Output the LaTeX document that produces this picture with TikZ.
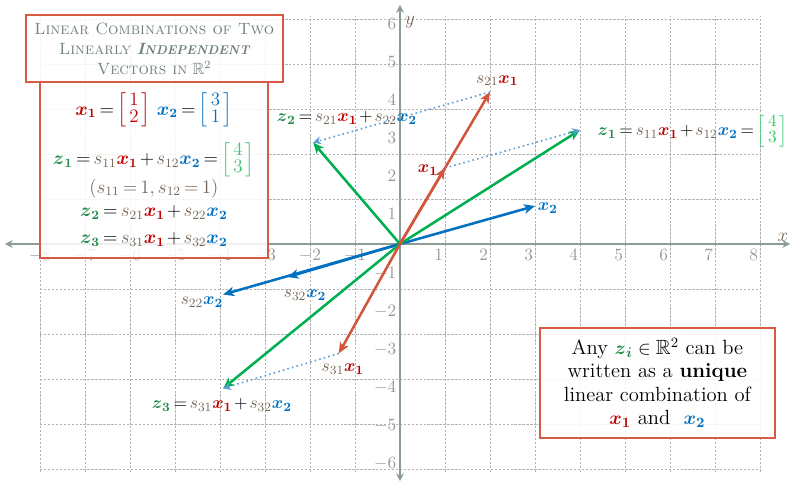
\documentclass[tikz,border=0pt]{standalone}
\usepackage{amsmath}
\usepackage{amssymb}
\usepackage{xcolor}
\usepackage{tikz}
\usetikzlibrary{positioning, arrows.meta, calc}

\definecolor{xone}{HTML}{C00000}
\definecolor{xonearr}{HTML}{D2553C}
\definecolor{xtwo}{HTML}{0070C0}
\definecolor{zgreen}{HTML}{00B050}
\definecolor{ztext}{HTML}{1E8C46}
\definecolor{zlight}{HTML}{3DC46F}
\definecolor{coef}{HTML}{766658}
\definecolor{dotblue}{HTML}{5B9BD5}
\definecolor{axisgray}{HTML}{8C9C94}
\definecolor{titlegray}{HTML}{6F8276}
\definecolor{boxred}{HTML}{D65A44}

\newcommand{\xa}{\textcolor{xone}{\boldsymbol{x}_{\mathbf{1}}}}
\newcommand{\xb}{\textcolor{xtwo}{\boldsymbol{x}_{\mathbf{2}}}}
\newcommand{\zv}[1]{\textcolor{ztext}{\boldsymbol{z}_{\boldsymbol{#1}}}}
\newcommand{\cf}[1]{\textcolor{coef}{s_{#1}}}
\newcommand{\cv}[3]{{\color{#1}\renewcommand{\arraystretch}{0.72}\left[\begin{array}{@{\,}c@{\,}}#2\\#3\end{array}\right]}}
\newcommand{\tight}{\thickmuskip=3mu\medmuskip=2mu}

\begin{document}
\begin{tikzpicture}[x=1cm, y=0.8444cm, >={Stealth[length=7pt, width=6pt, inset=2pt]},
  vec/.style={->, line width=1.6pt},
  dots/.style={->, dotted, dotblue, line width=1pt, >={Stealth[length=5pt, width=5pt]}},
  tick/.style={text=gray!80, font=\fontsize{10.5}{11}\selectfont, inner sep=1pt},
  lbl/.style={font=\fontsize{11}{13}\selectfont\tight, inner sep=1pt},
  redbox/.style={draw=boxred, line width=1pt, fill=white, fill opacity=0.85, text opacity=1}]

  \useasboundingbox (-8.889,-6.289) rectangle (8.8,6.421);

  % grid and axes
  \draw[gray!60, dash pattern=on 1.5pt off 1pt, line width=0.5pt] (-8,-6) grid (8,6);
  \coordinate (xl) at (-8.78,0);
  \coordinate (xr) at (8.67,0);
  \coordinate (yb) at (0,-6.24);
  \coordinate (yt) at (0,6.29);
  \draw[axisgray, line width=1pt, {Stealth[length=5pt, width=5pt]}-{Stealth[length=5pt, width=5pt]}] (xl) -- (xr);
  \draw[axisgray, line width=1pt, {Stealth[length=5pt, width=5pt]}-{Stealth[length=5pt, width=5pt]}] (yb) -- (yt);
  \foreach \i [count=\n] in {-8,...,-1}
    \node[tick, anchor=north] (txn\n) at (\i,-0.08) {$\i$};
  \foreach \i in {1,...,8}
    \node[tick, anchor=north east] (txp\i) at (\i,-0.08) {$\i$};
  \foreach \i [count=\n] in {-6,...,-1}
    \node[tick, anchor=south east] (tyn\n) at (-0.04,\i) {$\i$};
  \foreach \i in {1,...,6}
    \node[tick, anchor=north east] (typ\i) at (-0.04,\i) {$\i$};
  \node[text=coef, font=\fontsize{12}{14}\selectfont] (ax) at (8.51,0.18) {$x$};
  \node[text=coef, font=\fontsize{12}{14}\selectfont] (ay) at (0.22,5.84) {$y$};

  % vectors
  \coordinate (O)   at (0,0);
  \coordinate (X1)  at (1,2);
  \coordinate (X2)  at (3,1);
  \coordinate (Z1)  at (4,3);
  \coordinate (S21) at (2,4);
  \coordinate (S22) at (-3.93,-1.33);
  \coordinate (Z2)  at (-1.93,2.67);
  \coordinate (S31) at (-1.36,-2.88);
  \coordinate (S32) at (-2.5,-0.87);
  \coordinate (Z3)  at (-3.93,-3.8);

  \draw[vec, xtwo]    (O) -- (X2);
  \draw[vec, xtwo]    (O) -- (S22);
  \draw[vec, xtwo]    (O) -- (S32);
  \draw[vec, zgreen]  (O) -- (Z1);
  \draw[vec, zgreen]  (O) -- (Z2);
  \draw[vec, zgreen]  (O) -- (Z3);
  \draw[vec, xonearr] (O) -- (S21);
  \draw[vec, xonearr] (O) -- (X1);
  \draw[vec, xonearr] (O) -- (S31);
  \draw[dots] (X1)  -- (Z1);
  \draw[dots] (S21) -- (Z2);
  \draw[dots] (S31) -- (Z3);

  % labels
  \node[lbl]              (l21) at (2.16,4.3)   {$\cf{21}\xa$};
  \node[lbl]              (lx1) at (0.62,1.95)  {$\xa$};
  \node[lbl]              (lz2) at (-1.18,3.32) {$\zv2 = \cf{21}\xa + \cf{22}\xb$};
  \node[lbl, anchor=west] (lz1) at (4.35,2.97)  {$\zv1 = \cf{11}\xa + \cf{12}\xb = \cv{zlight}{4}{3}$};
  \node[lbl, anchor=west] (lx2) at (3.02,0.95)  {$\xb$};
  \node[lbl]              (l22) at (-4.4,-1.53) {$\cf{22}\xb$};
  \node[lbl]              (l32) at (-2.11,-1.34){$\cf{32}\xb$};
  \node[lbl]              (l31) at (-1.27,-3.29){$\cf{31}\xa$};
  \node[lbl]              (lz3) at (-3.96,-4.24){$\zv3 = \cf{31}\xa + \cf{32}\xb$};

  % boxes
  \node[redbox, minimum width=5.07cm, minimum height=3.91cm, align=center,
        font=\fontsize{12}{14}\selectfont\tight] (E) at (-5.47,1.95)
    {$\xa = \cv{xone}{1}{2}\ \xb = \cv{xtwo}{3}{1}$\\[9pt]
     $\zv1 = \cf{11}\xa + \cf{12}\xb = \cv{zlight}{4}{3}$\\
     {\color{coef}$(s_{11} = 1, s_{12} = 1)$}\\[1pt]
     $\zv2 = \cf{21}\xa + \cf{22}\xb$\\[3pt]
     $\zv3 = \cf{31}\xa + \cf{32}\xb$};
  \node[redbox, minimum width=5.71cm, minimum height=1.49cm, align=center, text=titlegray,
        font=\fontsize{10.3}{12.6}\selectfont] (T) at (-5.46,5.14)
    {\textsc{Linear Combinations of Two}\\
     \textsc{Linearly} {\bfseries\itshape I{\fontsize{8}{10}\selectfont NDEPENDENT}}\\
     \textsc{Vectors in} $\mathbb{R}^2$};
  \node[redbox, minimum width=5.22cm, minimum height=2.44cm, align=center,
        font=\fontsize{13}{14.8}\selectfont] (A) at (5.72,-3.655)
    {Any $\zv{i} \in \mathbb{R}^2$ can be\\
     written as a \textbf{unique}\\
     linear combination of\\
     $\xa$ and ~$\xb$};
\end{tikzpicture}
\end{document}
